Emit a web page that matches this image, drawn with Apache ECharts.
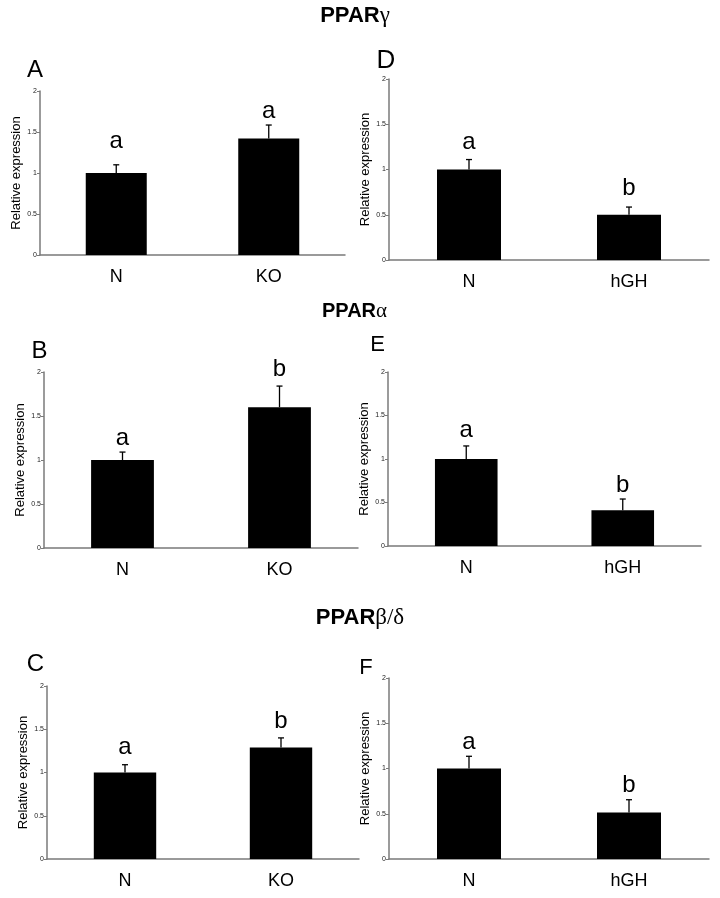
<!DOCTYPE html>
<html>
<head>
<meta charset="utf-8">
<script src="https://cdn.jsdelivr.net/npm/echarts@6/dist/echarts.min.js"></script>
<style>html,body{margin:0;padding:0;background:#fff}#c{width:720px;height:898px}</style>
</head>
<body>
<div id="c"></div>
<script>
// ---- data ----
const catsKO = ['N', 'KO'];
const catsGH = ['N', 'hGH'];
const yTicks = [0, 0.5, 1, 1.5, 2];
const panelNames = ['A', 'B', 'C', 'D', 'E', 'F'];
const titles = [['PPAR', 'γ'], ['PPAR', 'α'], ['PPAR', 'β/δ']];

const meanA = [1.0, 1.42];  const seA = [0.10, 0.165]; const sigA = ['a', 'a']; const sigYA = [1.29, 1.65];
const meanB = [1.0, 1.60];  const seB = [0.09, 0.24];  const sigB = ['a', 'b']; const sigYB = [1.15, 1.94];
const meanC = [1.0, 1.29];  const seC = [0.09, 0.11];  const sigC = ['a', 'b']; const sigYC = [1.195, 1.50];
const meanD = [1.0, 0.50];  const seD = [0.11, 0.085]; const sigD = ['a', 'b']; const sigYD = [1.215, 0.70];
const meanE = [1.0, 0.41];  const seE = [0.15, 0.13];  const sigE = ['a', 'b']; const sigYE = [1.235, 0.61];
const meanF = [1.0, 0.515]; const seF = [0.135, 0.14]; const sigF = ['a', 'b']; const sigYF = [1.196, 0.73];

// ---- layout ----
const FONT = 'Liberation Sans, Arial, sans-serif';
const panels = [
  {cats: catsKO, mean: meanA, se: seA, sig: sigA, sigY: sigYA, grid: {left: 40, top: 91, width: 305, height: 164}, lab: [35, 70.5, 24]},
  {cats: catsKO, mean: meanB, se: seB, sig: sigB, sigY: sigYB, grid: {left: 44, top: 372, width: 314, height: 176}, lab: [39.5, 351, 24]},
  {cats: catsKO, mean: meanC, se: seC, sig: sigC, sigY: sigYC, grid: {left: 47, top: 686, width: 312, height: 173}, lab: [35.5, 664, 24]},
  {cats: catsGH, mean: meanD, se: seD, sig: sigD, sigY: sigYD, grid: {left: 389, top: 79, width: 320, height: 181}, lab: [386, 61, 26]},
  {cats: catsGH, mean: meanE, se: seE, sig: sigE, sigY: sigYE, grid: {left: 388, top: 372, width: 313, height: 174}, lab: [377.5, 344.5, 22]},
  {cats: catsGH, mean: meanF, se: seF, sig: sigF, sigY: sigYF, grid: {left: 389, top: 678, width: 320, height: 181}, lab: [366, 667.5, 22]}
];
const titlePos = [[355, 16, 22], [354.5, 311.5, 20], [360, 618, 22]];

const grids = [], xAxes = [], yAxes = [], series = [], graphics = [];
panels.forEach((p, i) => {
  grids.push(Object.assign({}, p.grid));
  xAxes.push({
    type: 'category', gridIndex: i, data: p.cats,
    axisLine: {lineStyle: {color: '#7a7a7a', width: 1.5}},
    axisTick: {length: 3, lineStyle: {color: '#7a7a7a'}},
    axisLabel: {fontSize: 18, color: '#000', fontFamily: FONT, margin: 13}
  });
  yAxes.push({
    type: 'value', gridIndex: i, min: 0, max: 2, interval: 0.5,
    name: 'Relative expression', nameLocation: 'middle', nameGap: 17,
    nameTextStyle: {fontSize: 13, color: '#000', fontFamily: FONT},
    axisLine: {show: true, lineStyle: {color: '#7a7a7a', width: 1.5}},
    axisTick: {show: true, length: 3, lineStyle: {color: '#7a7a7a'}},
    splitLine: {show: false},
    axisLabel: {fontSize: 7, color: '#222', fontFamily: FONT, margin: 3,
      formatter: v => yTicks.indexOf(v) >= 0 ? String(v) : ''}
  });
  series.push({
    type: 'bar', xAxisIndex: i, yAxisIndex: i, data: p.mean,
    barWidth: '40%', itemStyle: {color: '#000'}, silent: true, animation: false
  });
  series.push({
    type: 'custom', xAxisIndex: i, yAxisIndex: i, animation: false, silent: true, z: 5,
    data: p.mean.map((m, k) => [k, m, p.se[k], p.sigY[k]]),
    renderItem: (params, api) => {
      const k = api.value(0), m = api.value(1), s = api.value(2), ly = api.value(3);
      const b = api.coord([k, m]);
      const t = api.coord([k, m + s]);
      const l = api.coord([k, ly]);
      return {
        type: 'group', children: [
          {type: 'line', shape: {x1: b[0], y1: b[1], x2: t[0], y2: t[1]}, style: {stroke: '#000', lineWidth: 1.3}},
          {type: 'line', shape: {x1: t[0] - 3, y1: t[1], x2: t[0] + 3, y2: t[1]}, style: {stroke: '#000', lineWidth: 1.3}},
          {type: 'text', x: l[0], y: l[1] - 8, style: {text: p.sig[params.dataIndex], font: '24px ' + FONT, fill: '#000', align: 'center', verticalAlign: 'middle'}}
        ]
      };
    }
  });
  graphics.push({type: 'text', x: p.lab[0], y: p.lab[1],
    style: {text: panelNames[i], font: p.lab[2] + 'px ' + FONT, fill: '#000', align: 'center', verticalAlign: 'middle'}});
});
titles.forEach((t, i) => {
  const tp = titlePos[i];
  graphics.push({type: 'text', x: tp[0], y: tp[1],
    style: {text: '{b|' + t[0] + '}{g|' + t[1] + '}', align: 'center', verticalAlign: 'middle',
      rich: {
        b: {fontFamily: FONT, fontWeight: 'bold', fontSize: tp[2], fill: '#000', color: '#000'},
        g: {fontFamily: 'Liberation Serif, DejaVu Serif, serif', fontSize: tp[2] + 1, fill: '#000', color: '#000'}
      }}});
});

const chart = echarts.init(document.getElementById('c'), null, {renderer: 'canvas'});
chart.setOption({
  animation: false,
  backgroundColor: '#fff',
  grid: grids, xAxis: xAxes, yAxis: yAxes, series: series, graphic: graphics
});
</script>
</body>
</html>
